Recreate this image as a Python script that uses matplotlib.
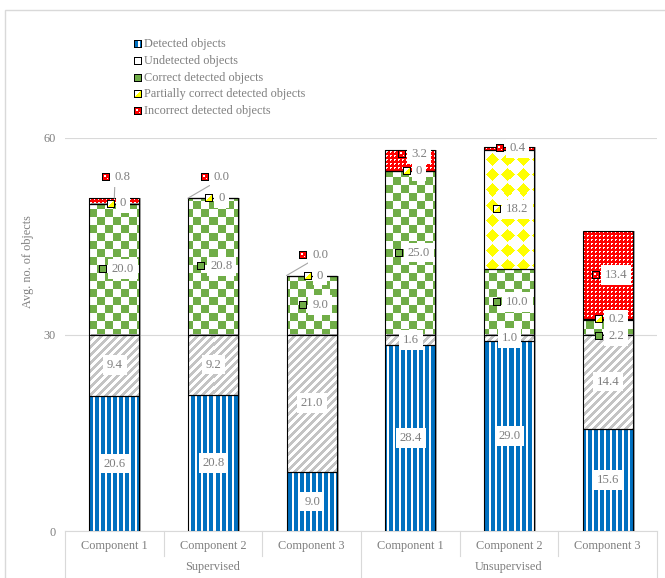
import numpy as np
import matplotlib
matplotlib.use('Agg')
import matplotlib.pyplot as plt
from matplotlib.font_manager import FontProperties
from matplotlib.transforms import ScaledTranslation, blended_transform_factory

# data
groups = ['Supervised', 'Unsupervised']
components = ['Component 1', 'Component 2', 'Component 3'] * 2
series = ['Detected objects', 'Undetected objects', 'Correct detected objects',
          'Partially correct detected objects', 'Incorrect detected objects']
detected = [20.6, 20.8, 9.0, 28.4, 29.0, 15.6]
undetected = [9.4, 9.2, 21.0, 1.6, 1.0, 14.4]
correct = [20.0, 20.8, 9.0, 25.0, 10.0, 2.2]
partial = [0, 0, 0, 0, 18.2, 0.2]
incorrect = [0.8, 0.0, 0.0, 3.2, 0.4, 13.4]
label_fmt = ['{:.1f}', '{:.1f}', '{:.1f}', '{:g}', '{:.1f}']

W, H, DPI = 665, 578, 100
GREY = '#7f7f7f'
LINE = '#d9d9d9'
LBL_SIZE = 9.2
plt.rcParams['font.family'] = ['Liberation Serif', 'DejaVu Serif']
plt.rcParams['font.size'] = 8.8
plt.rcParams['text.color'] = GREY

fig = plt.figure(figsize=(W / DPI, H / DPI), dpi=DPI)
ax_l, ax_r, ax_t, ax_b = 65, 657, 138, 531
ax = fig.add_axes([ax_l / W, 1 - ax_b / H, (ax_r - ax_l) / W, (ax_b - ax_t) / H])
ax.set_xlim(-0.5, 5.5)
ax.set_ylim(0, 60)

# pixel patterns (Excel style fills)
B = [0, 112, 192]; Wt = [255, 255, 255]; G = [112, 173, 71]
Y = [255, 255, 0]; R = [255, 0, 0]; S = [196, 196, 196]

t_det = np.array([[B, B, B, B, Wt, Wt]], np.uint8)
t_und = np.array([[S if (r + c) % 8 < 4 else Wt for c in range(8)] for r in range(8)], np.uint8)
t_cor = np.array([[G if (r // 8 + c // 8) % 2 == 0 else Wt for c in range(16)] for r in range(16)], np.uint8)
t_par = np.array([[Y if abs(r - 7) + abs(c - 7) <= 6 else Wt for c in range(15)] for r in range(15)], np.uint8)
t_inc = np.array([[Wt if (r % 4 == 1 and c % 4 in (1, 2)) or (r % 4 == 2 and c % 4 == 1) else R
                   for c in range(4)] for r in range(4)], np.uint8)
tiles = [t_det, t_und, t_cor, t_par, t_inc]

ph, pw = ax_b - ax_t, ax_r - ax_l


def fill_img(tile):
    th, tw = tile.shape[:2]
    return np.tile(tile, (ph // th + 1, pw // tw + 1, 1))[:ph, :pw]


def key_arr(i):
    k = np.zeros((8, 8, 3), np.uint8)
    inner = np.full((6, 6, 3), 255, np.uint8)
    if i == 0:
        inner[:, :3] = B; inner[:, 5] = B
    elif i == 2:
        inner[:] = G
    elif i == 3:
        for r in range(6):
            for c in range(6):
                if r + c >= 5:
                    inner[r, c] = Y
    elif i == 4:
        inner[:] = R
        inner[1:3, 1:3] = Wt
        inner[4, 4] = Wt
    k[1:-1, 1:-1] = inner
    return k


x = np.arange(len(components))
bw = 0.51
stack = [detected, undetected, correct, partial, incorrect]
totals = np.sum(stack, axis=0)

# shadow on the right side
ax.bar(x, totals, bw, color='#a6a6a6', linewidth=0, zorder=1.5,
       transform=ax.transData + ScaledTranslation(2 / DPI, 0, fig.dpi_scale_trans))

bottoms = np.zeros(len(x))
bar_sets = []
for si, vals in enumerate(stack):
    bars = ax.bar(x, vals, bw, bottom=bottoms, facecolor='none', edgecolor='black',
                  linewidth=0.8, zorder=3)
    img = fill_img(tiles[si])
    for rect in bars:
        if rect.get_height() <= 0:
            continue
        im = ax.imshow(img, extent=(-0.5, 5.5, 0, 60), origin='upper', aspect='auto',
                       interpolation='nearest', zorder=2)
        im.set_clip_path(rect)
    bar_sets.append(bars)
    bottoms = bottoms + np.array(vals)

ax.set_xlim(-0.5, 5.5)
ax.set_ylim(0, 60)

# axes styling
for sp in ['left', 'top', 'right']:
    ax.spines[sp].set_visible(False)
ax.spines['bottom'].set_color(LINE)
ax.set_yticks([0, 30, 60])
ax.yaxis.grid(True, color=LINE, linewidth=0.8)
ax.set_axisbelow(True)
ax.tick_params(axis='y', length=0, pad=6.5, colors=GREY)
ax.set_xticks(x, components)
ax.tick_params(axis='x', length=0, pad=6.5, colors=GREY)
ax.set_ylabel('Avg. no. of objects', color=GREY)
ax.yaxis.set_label_coords((34 - ax_l) / pw, (ax_b - 262) / ph)

btrans = blended_transform_factory(ax.transData, ax.transAxes)
for xb in np.arange(-0.5, 6, 1.0):
    long_sep = xb in (-0.5, 2.5, 5.5)
    ylen = (H - ax_b + 2) / ph if long_sep else 25 / ph
    ax.plot([xb, xb], [0, -ylen], transform=btrans, color=LINE, lw=0.8, clip_on=False)
for gi, g in enumerate(groups):
    ax.text(gi * 3 + 1, -36 / ph, g, transform=btrans, ha='center', va='center', color=GREY)

# data labels
fp = FontProperties(family='Liberation Serif', size=LBL_SIZE)
renderer = fig.canvas.get_renderer()
lift = {(4, 0): 21, (4, 1): 21, (4, 2): 21, (4, 3): 6, (2, 5): -9}
leader = {(4, 0): 'center', (4, 1): 'left', (4, 2): 'left'}
box = dict(boxstyle='square,pad=0.3', facecolor='white', edgecolor='none')
for si, bars in enumerate(bar_sets):
    for i, rect in enumerate(bars):
        txt = label_fmt[si].format(stack[si][i])
        top = rect.get_y() + rect.get_height()
        px, py = ax.transData.transform((rect.get_x() + rect.get_width() / 2,
                                         rect.get_y() + rect.get_height() / 2))
        if (si, i) in leader:
            py = ax.transData.transform((0, top))[1]
        py += lift.get((si, i), 0)
        if si < 2:
            ax.annotate(txt, xy=(px + 0.5, py), xycoords='figure pixels', ha='center',
                        va='center', bbox=box, color=GREY, fontsize=LBL_SIZE, zorder=4)
            continue
        tw = renderer.get_text_width_height_descent(txt, fp, ismath=False)[0]
        left = px - (13 + tw) / 2 + 2
        if (si, i) in leader:
            ax_x = rect.get_x() if leader[(si, i)] == 'left' else rect.get_x() + rect.get_width() / 2
            ax.annotate(txt, xy=(ax_x, top), xycoords='data', xytext=(left + 13, py),
                        textcoords='figure pixels', ha='left', va='center', bbox=box,
                        color=GREY, fontsize=LBL_SIZE, zorder=4,
                        arrowprops=dict(arrowstyle='-', color='#a6a6a6', lw=0.8,
                                        relpos=(0, 0), shrinkA=0, shrinkB=0))
        else:
            ax.annotate(txt, xy=(left + 13, py), xycoords='figure pixels', ha='left',
                        va='center', bbox=box, color=GREY, fontsize=LBL_SIZE, zorder=4)
        fig.figimage(key_arr(si), xo=int(round(left)), yo=int(round(py - 4)),
                     origin='upper', zorder=6)

# legend
for li, name in enumerate(series):
    yrow = 44 + li * 16.8
    fig.figimage(key_arr(li), xo=134, yo=int(round(H - yrow - 4)), origin='upper', zorder=6)
    fig.text(144 / W, 1 - yrow / H, name, ha='left', va='center', color=GREY)

# outer chart border
fig.add_artist(plt.Rectangle((5.5 / W, -0.5), 2, 1.5 - 9.5 / H, transform=fig.transFigure,
                             fill=False, edgecolor=LINE, lw=1))

fig.savefig('out.png', dpi=DPI)
